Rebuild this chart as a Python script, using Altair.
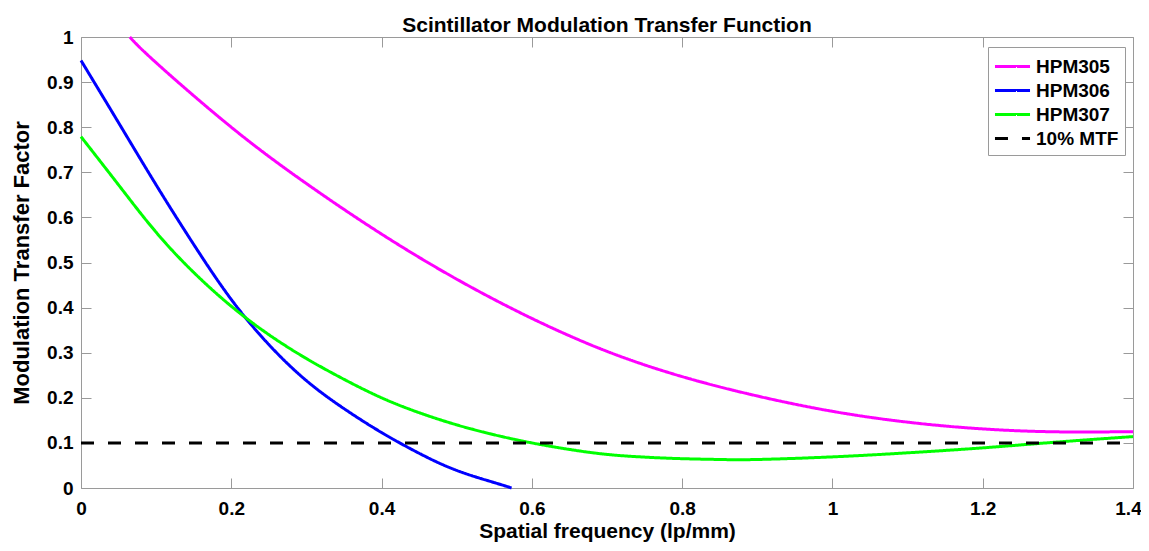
import altair as alt
import pandas as pd

# Series data
hpm305_x = [0.065, 0.1, 0.2, 0.3, 0.4, 0.5, 0.6, 0.7, 0.8, 0.9, 1.0, 1.1, 1.2, 1.3, 1.4]
hpm305_y = [1.0, 0.943, 0.800, 0.675, 0.563, 0.463, 0.376, 0.303, 0.247, 0.204, 0.170, 0.146, 0.131, 0.1245, 0.125]

hpm306_x = [0.0, 0.05, 0.1, 0.15, 0.2, 0.25, 0.3, 0.35, 0.4, 0.45, 0.5, 0.55, 0.573]
hpm306_y = [0.948, 0.81, 0.672, 0.54, 0.418, 0.318, 0.238, 0.176, 0.123, 0.077, 0.039, 0.012, 0.0]

hpm307_x = [0.0, 0.05, 0.1, 0.15, 0.2, 0.25, 0.3, 0.35, 0.4, 0.45, 0.5, 0.55, 0.6, 0.65,
            0.7, 0.75, 0.8, 0.85, 0.9, 1.0, 1.1, 1.2, 1.3, 1.4]
hpm307_y = [0.779, 0.672, 0.567, 0.478, 0.403, 0.340, 0.287, 0.241, 0.200, 0.167, 0.140, 0.118, 0.100, 0.0855,
            0.0745, 0.0685, 0.065, 0.0632, 0.0632, 0.069, 0.078, 0.089, 0.102, 0.114]

mtf_x = [0.0, 1.4]
mtf_y = [0.1, 0.1]

series_names = ["HPM305", "HPM306", "HPM307", "10% MTF"]
series_colors = ["#ff00ff", "#0000ff", "#00ff00", "#000000"]
series_dashes = [[1, 0], [1, 0], [1, 0], [13, 14]]

x_ticks = [0, 0.2, 0.4, 0.6, 0.8, 1.0, 1.2, 1.4]
y_ticks = [0, 0.1, 0.2, 0.3, 0.4, 0.5, 0.6, 0.7, 0.8, 0.9, 1.0]

rows = []
for name, xs, ys in [("HPM305", hpm305_x, hpm305_y),
                     ("HPM306", hpm306_x, hpm306_y),
                     ("HPM307", hpm307_x, hpm307_y),
                     ("10% MTF", mtf_x, mtf_y)]:
    for i, (xv, yv) in enumerate(zip(xs, ys)):
        rows.append({"series": name, "x": xv, "y": yv, "i": i})
df = pd.DataFrame(rows)

FONT = "Liberation Sans"
AXC = "#9a9a9a"

xscale = alt.Scale(domain=[0, 1.4], nice=False, zero=False)
yscale = alt.Scale(domain=[0, 1], nice=False, zero=False)

legend_kw = dict(title=None, orient="none", legendX=907, legendY=10,
                 symbolType="M-1.46,0H1.46", symbolSize=576, symbolStrokeWidth=3,
                 symbolOffset=5,
                 labelFont=FONT, labelFontSize=19, labelFontWeight="bold",
                 labelColor="#000000", rowPadding=0, padding=6,
                 strokeColor=AXC, fillColor="#ffffff", labelOffset=10)

lines = alt.Chart(df).mark_line(strokeWidth=3, interpolate="natural").encode(
    x=alt.X("x:Q", scale=xscale,
            axis=alt.Axis(orient="bottom", values=x_ticks, format="~g", offset=-10,
                          tickSize=10, tickColor=AXC, domain=False, grid=False,
                          labelPadding=11, labelFlush=False, labelOverlap=False,
                          labelOffset={"condition": {"test": "datum.value >= 1.39", "value": -5}, "value": 0},
                          labelFont=FONT, labelFontSize=19, labelFontWeight="bold",
                          labelColor="#000000",
                          title="Spatial frequency (lp/mm)", titleFont=FONT,
                          titleFontSize=21, titleFontWeight="bold", titleColor="#000000",
                          titlePadding=2)),
    y=alt.Y("y:Q", scale=yscale,
            axis=alt.Axis(orient="left", values=y_ticks, format="~g", offset=-10,
                          tickSize=10, tickColor=AXC, domain=False, grid=False,
                          labelPadding=8, labelFlush=False, labelOverlap=False,
                          labelFont=FONT, labelFontSize=19, labelFontWeight="bold",
                          labelColor="#000000",
                          title="Modulation Transfer Factor", titleFont=FONT,
                          titleFontSize=22, titleFontWeight="bold", titleColor="#000000",
                          titlePadding=13)),
    color=alt.Color("series:N",
                    scale=alt.Scale(domain=series_names, range=series_colors),
                    legend=alt.Legend(**legend_kw)),
    strokeDash=alt.StrokeDash("series:N",
                              scale=alt.Scale(domain=series_names, range=series_dashes),
                              legend=alt.Legend(**legend_kw)),
    order="i:Q",
)

ghost = alt.Chart(df).mark_point(opacity=0).encode(
    x=alt.X("x:Q", scale=xscale,
            axis=alt.Axis(orient="top", values=x_ticks, offset=-10, tickSize=10,
                          tickColor=AXC, domain=False, grid=False, labels=False, title=None)),
    y=alt.Y("y:Q", scale=yscale,
            axis=alt.Axis(orient="right", values=y_ticks, offset=-10, tickSize=10,
                          tickColor=AXC, domain=False, grid=False, labels=False, title=None)),
)

chart = alt.layer(lines, ghost).resolve_axis(x="independent", y="independent").properties(
    width=1052, height=451,
    title=alt.TitleParams("Scintillator Modulation Transfer Function", font=FONT,
                          fontSize=21, fontWeight="bold", color="#000000", offset=-8,
                          anchor="middle"),
    autosize=alt.AutoSizeParams(type="none"),
    padding={"left": 73, "top": 29, "right": 8, "bottom": 55},
).configure_view(stroke=AXC, strokeWidth=1)

chart.save("out.html", embed_options={"renderer": "svg", "actions": False})
